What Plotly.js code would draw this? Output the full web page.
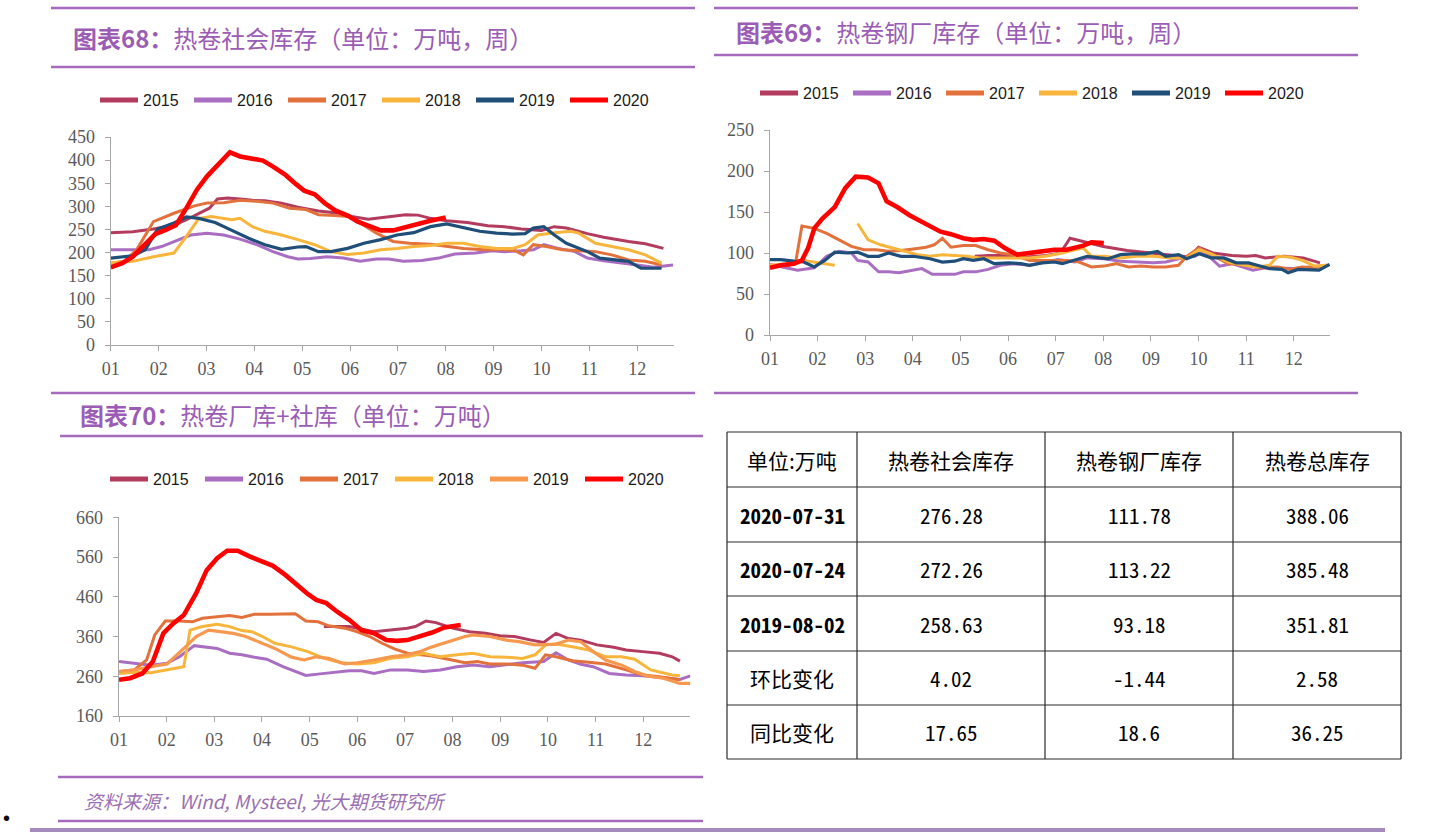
<!DOCTYPE html>
<html><head><meta charset="utf-8">
<script src="https://cdn.plot.ly/plotly-3.0.1.min.js"></script>
<style>html,body{margin:0;padding:0;background:#fff;overflow:hidden}#chart{width:1440px;height:832px}</style>
</head><body><div id="chart"></div>
<script>
// ---------- categories / labels ----------
const YEARS = ['2015','2016','2017','2018','2019','2020'];
const MONTH_TICKS = [1,2,3,4,5,6,7,8,9,10,11,12];
const MONTH_LABELS = ['01','02','03','04','05','06','07','08','09','10','11','12'];

// ---------- 图表68 热卷社会库存 (x = month position, y = 万吨) ----------
const SOC_X_2015 = [1.0,1.46,1.89,2.32,2.58,2.84,3.06,3.23,3.44,3.70,3.96,4.22,4.57,4.91,5.34,5.78,6.03,6.38,6.73,7.16,7.42,7.68,8.02,8.45,8.88,9.23,9.58,10.0,10.27,10.52,10.96,11.3,11.82,12.17,12.55];
const SOC_Y_2015 = [243,245,251,259,271,285,296,316,318,316,313,312,307,298,290,285,278,272,277,282,281,274,269,265,258,256,251,248,256,253,241,233,224,219,209];
const SOC_X_2016 = [1.0,1.46,1.80,2.06,2.41,2.67,3.01,3.36,3.70,4.05,4.39,4.70,4.91,5.17,5.52,5.86,6.21,6.55,6.81,7.11,7.50,7.85,8.19,8.62,8.97,9.23,9.58,9.83,10.05,10.35,10.70,10.96,11.30,11.65,12.0,12.34,12.75];
const SOC_Y_2016 = [206,206,206,213,228,238,242,238,229,217,202,191,186,187,191,188,181,186,186,181,183,188,197,199,204,202,204,206,217,209,202,188,182,178,173,168,173];
const SOC_X_2017 = [1.0,1.28,1.54,1.89,2.32,2.75,3.01,3.36,3.70,4.05,4.39,4.74,5.08,5.34,5.69,5.95,6.21,6.55,6.90,7.24,7.68,8.02,8.37,8.80,9.23,9.45,9.62,9.83,10.1,10.44,10.78,11.13,11.47,11.82,12.17,12.51];
const SOC_Y_2017 = [177,181,206,267,285,301,307,308,313,311,307,296,293,282,280,278,264,242,224,220,218,213,209,206,206,204,195,217,213,206,204,202,195,184,181,173];
const SOC_X_2018 = [1.0,1.46,1.89,2.32,2.58,2.84,3.1,3.36,3.53,3.70,3.96,4.22,4.57,4.91,5.26,5.60,5.95,6.29,6.64,6.98,7.33,7.68,8.02,8.37,8.71,9.06,9.40,9.66,9.92,10.27,10.61,10.78,11.13,11.47,11.82,12.17,12.51];
const SOC_Y_2018 = [178,181,191,199,235,274,278,274,271,274,256,246,238,228,217,202,196,199,206,209,213,215,220,220,213,209,209,217,238,243,246,242,220,213,206,195,177];
const SOC_X_2019 = [1.0,1.46,1.72,1.98,2.32,2.58,2.84,3.18,3.53,3.88,4.22,4.57,4.91,5.08,5.34,5.60,5.95,6.29,6.64,6.98,7.33,7.68,8.02,8.37,8.71,9.06,9.40,9.66,9.83,10.05,10.27,10.52,10.96,11.22,11.56,11.82,12.08,12.51];
const SOC_Y_2019 = [188,193,206,251,264,277,274,265,248,231,217,207,212,213,202,202,209,220,228,238,243,256,262,253,246,242,240,241,253,256,238,220,202,188,184,181,166,166];
const SOC_X_2020 = [1.0,1.24,1.46,1.72,1.93,2.15,2.36,2.58,2.80,3.01,3.27,3.49,3.70,3.96,4.18,4.39,4.65,4.87,5.04,5.26,5.47,5.69,5.95,6.16,6.42,6.64,6.90,7.16,7.42,7.68,7.85,8.0];
const SOC_Y_2020 = [168,177,191,220,240,249,259,296,336,365,394,417,408,404,399,386,368,348,334,326,307,291,280,267,256,248,248,256,262,269,272,276];

// ---------- 图表69 热卷钢厂库存 ----------
const MILL_X_2015 = [5.3,5.6,6.0,6.4,6.8,7.1,7.3,7.6,8.0,8.5,9.0,9.5,9.8,10.0,10.3,10.7,11.0,11.2,11.4,11.8,12.2,12.55];
const MILL_Y_2015 = [96,97,97,95,97,100,118,114,108,103,100,97,95,107,100,97,96,97,94,96,94,88];
const MILL_X_2016 = [1.0,1.23,1.58,1.93,2.19,2.45,2.71,2.84,3.06,3.28,3.49,3.71,3.93,4.19,4.41,4.67,4.88,5.06,5.32,5.58,5.84,6.10,6.45,6.79,7.05,7.40,7.66,8.01,8.36,8.71,9.05,9.31,9.58,9.92,10.10,10.27,10.44,10.70,10.97,11.14,11.40,11.75,12.0,12.36,12.70];
const MILL_Y_2016 = [86,83,79,82,96,102,100,91,89,77,77,76,78,81,74,74,74,77,77,80,85,87,85,89,92,89,94,93,90,89,88,89,93,96,102,93,84,87,82,79,82,81,81,83,85];
const MILL_X_2017 = [1.0,1.41,1.54,1.67,1.93,2.19,2.45,2.71,2.97,3.23,3.49,3.75,4.01,4.28,4.45,4.62,4.80,5.06,5.32,5.58,5.84,6.10,6.45,6.79,7.23,7.49,7.75,8.01,8.27,8.53,8.79,9.05,9.31,9.58,9.75,10.01,10.27,10.62,10.97,11.31,11.66,11.92,12.18,12.44,12.70];
const MILL_Y_2017 = [83,85,89,133,130,124,116,108,104,104,102,103,105,107,110,118,107,109,109,104,100,98,91,91,91,89,83,84,87,83,84,83,83,85,96,106,98,87,85,82,83,80,83,82,85];
const MILL_X_2018 = [1.0,1.32,1.67,1.93,2.19,2.36,2.6,2.84,3.06,3.32,3.58,3.84,4.10,4.36,4.62,4.88,5.14,5.40,5.75,6.10,6.45,6.79,7.14,7.40,7.58,7.75,8.01,8.36,8.71,9.05,9.40,9.75,10.01,10.27,10.62,10.97,11.23,11.49,11.66,11.92,12.18,12.44,12.70];
const MILL_Y_2018 = [85,87,91,89,87,85,null,136,116,110,106,102,98,96,98,97,96,94,94,94,94,96,100,104,106,96,96,94,96,96,94,94,104,99,89,85,83,85,96,95,91,84,85];
const MILL_X_2019 = [1.0,1.23,1.50,1.71,1.93,2.15,2.36,2.62,2.84,3.06,3.28,3.49,3.75,4.01,4.36,4.62,4.88,5.06,5.27,5.49,5.71,6.01,6.27,6.45,6.71,6.97,7.14,7.40,7.66,7.92,8.10,8.36,8.62,8.88,9.14,9.31,9.58,9.75,10.01,10.27,10.53,10.79,11.05,11.23,11.49,11.75,11.88,12.09,12.36,12.53,12.75];
const MILL_Y_2019 = [92,92,90,89,83,91,101,100,101,96,96,100,96,96,93,89,90,93,91,93,87,88,87,85,88,89,87,91,96,94,93,98,99,99,102,96,98,93,99,94,94,88,88,85,81,80,76,80,79,79,86];
const MILL_X_2020 = [1.0,1.23,1.5,1.67,1.80,1.93,2.10,2.36,2.58,2.80,3.06,3.28,3.45,3.67,3.93,4.19,4.36,4.58,4.80,5.06,5.27,5.49,5.71,5.93,6.19,6.45,6.71,6.97,7.23,7.40,7.58,7.75,8.01];
const MILL_Y_2020 = [82,85,87,91,106,130,142,156,179,193,192,185,163,156,146,138,132,126,123,118,116,117,115,106,98,100,102,104,104,106,109,113,112];

// ---------- 图表70 热卷厂库+社库 ----------
const TOT_X_2015 = [5.3,5.83,6.35,6.70,7.05,7.22,7.44,7.65,8.0,8.35,8.69,9.04,9.30,9.65,9.91,10.17,10.43,10.69,11.03,11.38,11.64,11.99,12.34,12.61,12.77];
const TOT_Y_2015 = [385,385,372,376,381,385,399,395,381,372,368,361,360,351,345,368,355,351,339,333,326,322,318,309,298];
const TOT_X_2016 = [1.0,1.32,1.67,2.01,2.27,2.58,2.80,3.06,3.32,3.58,3.84,4.10,4.44,4.70,4.92,5.22,5.48,5.83,6.09,6.35,6.70,7.05,7.39,7.74,8.09,8.43,8.78,9.13,9.47,9.91,10.17,10.43,10.69,10.95,11.29,11.64,11.99,12.42,12.77,12.99];
const TOT_Y_2016 = [297,293,288,293,309,337,334,330,318,314,308,303,284,272,262,266,269,274,274,267,276,276,272,276,284,288,284,290,294,297,319,301,290,284,267,263,261,256,252,261];
const TOT_X_2017 = [1.0,1.32,1.58,1.75,1.97,2.27,2.54,2.75,3.06,3.32,3.58,3.84,4.18,4.49,4.70,4.92,5.18,5.40,5.74,6.00,6.26,6.52,6.78,7.05,7.31,7.57,7.91,8.26,8.52,8.78,9.13,9.47,9.73,9.95,10.17,10.51,10.86,11.21,11.64,11.99,12.34,12.77];
const TOT_Y_2017 = [272,276,301,364,399,399,397,406,410,413,408,416,416,417,417,399,397,387,381,372,360,343,329,318,314,311,303,294,297,291,291,288,280,314,309,299,295,291,276,263,259,251];
const TOT_X_2018 = [1.0,1.32,1.67,2.01,2.36,2.49,2.75,3.06,3.32,3.58,3.79,4.01,4.27,4.62,4.96,5.31,5.66,6.00,6.35,6.70,7.05,7.39,7.74,8.09,8.43,8.78,9.13,9.47,9.73,9.95,10.17,10.51,10.86,11.21,11.55,11.82,12.16,12.60,12.77];
const TOT_Y_2018 = [267,270,269,277,284,376,385,391,385,375,372,360,343,334,322,305,294,291,294,305,309,318,309,314,318,309,308,305,314,339,341,334,326,309,309,303,276,263,261];
const TOT_X_2019 = [1.0,1.32,1.67,2.01,2.36,2.62,2.88,3.14,3.40,3.66,3.92,4.27,4.62,4.88,5.14,5.40,5.74,6.00,6.35,6.70,7.05,7.31,7.57,7.91,8.26,8.43,8.78,9.13,9.39,9.73,9.99,10.17,10.43,10.69,10.95,11.21,11.55,11.82,12.08,12.42,12.77,12.99];
const TOT_Y_2019 = [272,276,284,291,330,360,376,372,368,360,347,330,308,301,309,305,291,294,301,309,314,322,334,347,360,364,360,351,347,339,339,341,351,347,322,301,288,272,261,255,242,242];
const TOT_X_2020 = [1.0,1.23,1.49,1.71,1.93,2.14,2.36,2.62,2.84,3.06,3.27,3.49,3.75,4.01,4.23,4.49,4.70,4.96,5.14,5.35,5.57,5.83,6.09,6.35,6.61,6.83,7.05,7.31,7.57,7.83,8.0,8.17];
const TOT_Y_2020 = [251,255,267,297,368,393,414,469,527,557,576,576,561,548,538,515,492,467,452,444,423,402,376,368,351,349,351,360,370,383,386,389];

// ---------- table ----------
const TABLE_HEADER = ['单位:万吨','热卷社会库存','热卷钢厂库存','热卷总库存'];
const TABLE_ROW_LABELS = ['2020-07-31','2020-07-24','2019-08-02','环比变化','同比变化'];
const COL_SOCIAL = ['276.28','272.26','258.63','4.02','17.65'];
const COL_MILL = ['111.78','113.22','93.18','-1.44','18.6'];
const COL_TOTAL = ['388.06','385.48','351.81','2.58','36.25'];

// ---------- texts ----------
const TITLE_68 = '<b>图表68：</b>热卷社会库存（单位：万吨，周）';
const TITLE_69 = '<b>图表69：</b>热卷钢厂库存（单位：万吨，周）';
const TITLE_70 = '<b>图表70：</b>热卷厂库+社库（单位：万吨）';
const SOURCE_TEXT = '资料来源：Wind, Mysteel, 光大期货研究所';

// ---------- styles ----------
const COLORS_A = ['#B23B5E','#A96DC2','#E2713B','#F7B53C','#1F4E79','#FF0000'];
const COLORS_C = ['#B23B5E','#A96DC2','#E2713B','#F7B53C','#F6994F','#FF0000'];
const WIDTHS = [3,3,3,3,3.2,4.6];
const PURPLE = '#A569BD';
const W = 1440, H = 832;
const PX = x => x / W, PY = y => 1 - y / H;

const SOC_X = [SOC_X_2015,SOC_X_2016,SOC_X_2017,SOC_X_2018,SOC_X_2019,SOC_X_2020];
const SOC_Y = [SOC_Y_2015,SOC_Y_2016,SOC_Y_2017,SOC_Y_2018,SOC_Y_2019,SOC_Y_2020];
const MILL_X = [MILL_X_2015,MILL_X_2016,MILL_X_2017,MILL_X_2018,MILL_X_2019,MILL_X_2020];
const MILL_Y = [MILL_Y_2015,MILL_Y_2016,MILL_Y_2017,MILL_Y_2018,MILL_Y_2019,MILL_Y_2020];
const TOT_X = [TOT_X_2015,TOT_X_2016,TOT_X_2017,TOT_X_2018,TOT_X_2019,TOT_X_2020];
const TOT_Y = [TOT_Y_2015,TOT_Y_2016,TOT_Y_2017,TOT_Y_2018,TOT_Y_2019,TOT_Y_2020];

const traces = [];
function addSet(xs, ys, colors, xa, ya, leg) {
  YEARS.forEach((yr, i) => {
    traces.push({type:'scatter', mode:'lines', name:yr, x:xs[i], y:ys[i],
      xaxis:xa, yaxis:ya, showlegend:false, connectgaps:false, hoverinfo:'skip',
      line:{color:colors[i], width:WIDTHS[i]}});
  });
  // legend keys (thick strokes, as in the source legend)
  YEARS.forEach((yr, i) => {
    traces.push({type:'scatter', mode:'lines', name:yr, x:[null], y:[null],
      xaxis:xa, yaxis:ya, legend:leg, showlegend:true, hoverinfo:'skip',
      line:{color:colors[i], width:5}});
  });
}
addSet(SOC_X, SOC_Y, COLORS_A, 'x', 'y', 'legend');
addSet(MILL_X, MILL_Y, COLORS_A, 'x2', 'y2', 'legend2');
addSet(TOT_X, TOT_Y, COLORS_C, 'x3', 'y3', 'legend3');

const tickFont = {family:'Liberation Serif, serif', size:18, color:'#595959'};
function xAx(d0, d1, r1, anchor) {
  return {domain:[PX(d0), PX(d1)], range:[1, r1], anchor:anchor, tickmode:'array',
    tickvals:MONTH_TICKS, ticktext:MONTH_LABELS, showline:true, linecolor:'#A6A6A6', linewidth:1.3,
    ticks:'outside', ticklen:5, tickcolor:'#A6A6A6', showgrid:false, zeroline:false,
    tickfont:tickFont, ticklabelstandoff:2, fixedrange:true};
}
function yAx(top, bot, r0, r1, dt, anchor) {
  return {domain:[PY(bot), PY(top)], range:[r0, r1], anchor:anchor, tick0:r0, dtick:dt,
    showline:true, linecolor:'#A6A6A6', linewidth:1.3, ticks:'outside', ticklen:5, tickcolor:'#A6A6A6',
    showgrid:false, zeroline:false, tickfont:tickFont, ticklabelstandoff:6, fixedrange:true};
}
const legFont = {family:'Liberation Sans, Arial, sans-serif', size:16, color:'#1A1A1A'};
function leg(x, y, ew) {
  return {orientation:'h', x:PX(x), y:PY(y), xanchor:'left', yanchor:'middle', font:legFont,
    itemwidth:38, entrywidth:ew, entrywidthmode:'pixels', bgcolor:'rgba(0,0,0,0)', traceorder:'normal'};
}

const shapes = [];
function hline(x0, x1, y, color, w) {
  shapes.push({type:'line', xref:'paper', yref:'paper', x0:PX(x0), x1:PX(x1), y0:PY(y), y1:PY(y),
    line:{color:color, width:w}});
}
function vline(x, y0, y1, color, w) {
  shapes.push({type:'line', xref:'paper', yref:'paper', x0:PX(x), x1:PX(x), y0:PY(y0), y1:PY(y1),
    line:{color:color, width:w}});
}
// title / separator rules
hline(51, 695, 8, PURPLE, 2.5); hline(51, 695, 67, PURPLE, 2.5);
hline(714, 1358, 8, PURPLE, 2.5); hline(714, 1358, 55, PURPLE, 2.5);
hline(714, 1358, 393, PURPLE, 2.5);
hline(51, 695, 393, PURPLE, 2.5); hline(60, 703, 436, PURPLE, 2.5);
hline(58, 703, 777, PURPLE, 2.5); hline(58, 703, 821, PURPLE, 2.5);
hline(30, 1385, 830, '#A58BBE', 4);

// table grid
const TBL_X = [727, 857, 1045, 1233, 1401];
const TBL_Y = [432, 487, 542, 596, 651, 705, 759];
TBL_Y.forEach(y => hline(TBL_X[0], TBL_X[4], y, '#2B2B2B', 1.2));
TBL_X.forEach(x => vline(x, TBL_Y[0], TBL_Y[6], '#2B2B2B', 1.2));

const annotations = [];
function txt(text, x, y, font, xanchor) {
  annotations.push({text:text, x:PX(x), y:PY(y), xref:'paper', yref:'paper', showarrow:false,
    xanchor:xanchor || 'center', yanchor:'middle', font:font});
}
const titleFont = {family:'Noto Sans CJK SC, sans-serif', size:24, color:'#9B5CB6'};
txt(TITLE_68, 71, 38, titleFont, 'left');
txt(TITLE_69, 734, 32, titleFont, 'left');
txt(TITLE_70, 78, 414, titleFont, 'left');
txt(SOURCE_TEXT, 82, 800, {family:'Noto Sans CJK SC, sans-serif', size:19, color:'#9A6FB3', style:'italic'}, 'left');
annotations.push({text:'•', x:PX(2), y:PY(818), xref:'paper', yref:'paper', showarrow:false,
  xanchor:'left', yanchor:'middle', borderpad:0, font:{family:'Liberation Sans, sans-serif', size:20, color:'#000'}});

// table text
const cx = i => (TBL_X[i] + TBL_X[i+1]) / 2;
const cy = r => (TBL_Y[r] + TBL_Y[r+1]) / 2;
const hdrFont = {family:'Noto Sans CJK SC, sans-serif', size:21, color:'#000', weight:400};
const numFont = {family:'Noto Sans Mono CJK SC, Liberation Mono, monospace', size:21, color:'#000'};
const dateFont = {family:'Noto Sans Mono CJK SC, Liberation Mono, monospace', size:21, color:'#000', weight:700};
TABLE_HEADER.forEach((h, i) => txt(h, cx(i), cy(0), hdrFont));
TABLE_ROW_LABELS.forEach((lab, r) => txt(lab, cx(0), cy(r+1), /\d/.test(lab) ? dateFont : hdrFont));
[COL_SOCIAL, COL_MILL, COL_TOTAL].forEach((col, c) => col.forEach((v, r) => txt(v, cx(c+1), cy(r+1), numFont)));

const layout = {
  width:W, height:H, margin:{l:0, r:0, t:0, b:0}, paper_bgcolor:'#fff', plot_bgcolor:'rgba(0,0,0,0)',
  showlegend:true,
  xaxis: xAx(110.8, 674, 12.77, 'y'),
  yaxis: yAx(137, 345, 0, 450, 50, 'x'),
  xaxis2: xAx(770, 1330, 12.76, 'y2'),
  yaxis2: yAx(130, 335, 0, 250, 50, 'x2'),
  xaxis3: xAx(119, 690.4, 12.99, 'y3'),
  yaxis3: yAx(517.3, 716, 160, 660, 100, 'x3'),
  legend: leg(95, 100, 41),
  legend2: leg(755, 93, 40),
  legend3: leg(105, 479, 42),
  shapes: shapes, annotations: annotations
};
Plotly.newPlot('chart', traces, layout, {staticPlot:true, displayModeBar:false});
</script></body></html>
